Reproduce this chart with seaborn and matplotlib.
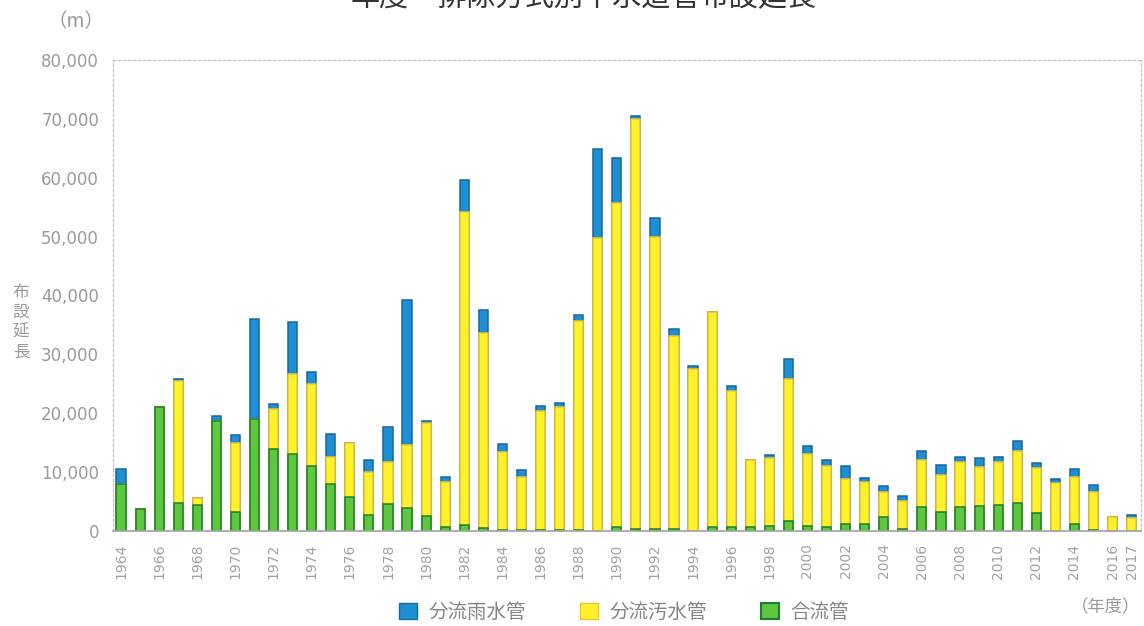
import matplotlib
matplotlib.use("Agg")
import matplotlib.pyplot as plt
import seaborn as sns
import pandas as pd
from matplotlib.patches import Patch

# Fiscal years
years = list(range(1964, 2018))

# Length laid per year (m), by drainage type
combined = [7900, 3700, 21000, 4800, 4400, 18700, 3200, 19000, 14000, 13100,
            11000, 7900, 5800, 2700, 4600, 3900, 2500, 600, 1000, 500,
            200, 100, 150, 150, 150, 0, 700, 400, 300, 400,
            0, 700, 700, 600, 850, 1700, 900, 600, 1200, 1200,
            2400, 400, 4100, 3200, 4000, 4300, 4400, 4800, 3000, 0,
            1200, 200, 0, 0]
sewage = [0, 0, 0, 20600, 1200, 0, 11800, 0, 6800, 13600,
          14000, 4600, 9200, 7300, 7100, 10700, 15800, 7800, 53200, 33100,
          13300, 9000, 20300, 20900, 35500, 49700, 55000, 69600, 49700, 32800,
          27450, 36500, 23000, 11500, 11600, 24100, 12200, 10500, 7600, 7200,
          4300, 4750, 7950, 6300, 7800, 6500, 7350, 8850, 7650, 8100,
          8000, 6500, 2300, 2150]
storm = [2700, 0, 0, 400, 0, 800, 1250, 17000, 700, 8800,
         2000, 4000, 0, 2100, 5900, 24700, 450, 800, 5500, 4000,
         1250, 1250, 800, 700, 1100, 15100, 7700, 450, 3100, 1100,
         550, 0, 850, 0, 400, 3400, 1400, 900, 2200, 600,
         950, 800, 1550, 1700, 850, 1550, 750, 1650, 850, 650,
         1250, 1100, 0, 550]

legend_labels = ["分流雨水管", "分流汚水管", "合流管"]
tick_years = [y for y in years if y % 2 == 0 or y == 2017]

df = pd.DataFrame({"year": [str(y) for y in years],
                   "combined": combined, "sewage": sewage, "storm": storm})
df["lvl_green"] = df["combined"]
df["lvl_yellow"] = df["combined"] + df["sewage"]
df["lvl_blue"] = df["lvl_yellow"] + df["storm"]

sns.set_theme(style="white")
cjk = ["Noto Sans CJK JP", "DejaVu Sans"]
plt.rcParams["font.family"] = cjk

BLUE, BLUE_E = "#1f8fd3", "#16679e"
YELLOW, YELLOW_E = "#fff22c", "#efc52a"
GREEN, GREEN_E = "#5ec63f", "#1c7f2c"
GREY = "#9a9a9a"

fig = plt.figure(figsize=(11.44, 6.26), dpi=100)
ax = fig.add_axes([113 / 1144, 1 - 531 / 626, (1141 - 113) / 1144, (531 - 60) / 626])

order = df["year"].tolist()
# stacked bars: draw cumulative levels from the top segment down
for col, fc, ec in [("lvl_blue", BLUE, BLUE_E),
                    ("lvl_yellow", YELLOW, YELLOW_E),
                    ("lvl_green", GREEN, GREEN_E)]:
    sns.barplot(data=df, x="year", y=col, order=order, color=fc,
                saturation=1, width=0.48, edgecolor=ec, linewidth=1.1,
                ax=ax, zorder=2)

ax.set_xlim(-0.42, len(years) - 1 + 0.49)
ax.set_ylim(0, 80000)
ax.set_yticks(range(0, 80001, 10000))
ax.set_yticklabels([f"{v:,}" for v in range(0, 80001, 10000)],
                   family="DejaVu Sans", fontsize=12, color=GREY)
ax.set_xticks(range(len(years)))
ax.set_xticklabels([str(y) if y in tick_years else "" for y in years],
                   rotation=90, family="DejaVu Sans", fontsize=10,
                   color="#a2a2a2", va="top")
ax.tick_params(axis="y", length=0, pad=10)
ax.tick_params(axis="x", length=0, pad=9)
ax.set_xlabel("")
ax.set_ylabel("")

for side in ["left", "top", "right"]:
    ax.spines[side].set_linestyle((0, (2, 2)))
    ax.spines[side].set_color("#c4c4c4")
    ax.spines[side].set_linewidth(0.9)
ax.spines["bottom"].set_color("#a8a8a8")
ax.spines["bottom"].set_linewidth(1.3)

# title (runs off the top edge of the page)
fig.text(0.51, 1 - 6.5 / 626, "年度・排除方式別下水道管布設延長",
         ha="center", va="baseline", fontsize=21, color="#333333", family=cjk)

# unit and vertical axis caption
fig.text(76 / 1144, 1 - 22 / 626, "（m）", ha="center", va="center",
         fontsize=14, color=GREY, family=cjk)
for i, ch in enumerate("布設延長"):
    fig.text(21 / 1144, 1 - (292 + 20 * i) / 626, ch, ha="center", va="center",
             fontsize=12, color=GREY, family=cjk)
fig.text(1140 / 1144, 1 - 606 / 626, "（年度）", ha="right", va="center",
         fontsize=12.5, color=GREY, family=cjk)

handles = [Patch(facecolor=BLUE, edgecolor=BLUE_E, linewidth=1),
           Patch(facecolor=YELLOW, edgecolor=YELLOW_E, linewidth=1),
           Patch(facecolor=GREEN, edgecolor=GREEN_E, linewidth=1.5)]
leg = fig.legend(handles, legend_labels, ncol=3, loc="center",
                 bbox_to_anchor=(624 / 1144, 1 - 612 / 626), frameon=False,
                 prop={"family": cjk, "size": 14}, handlelength=0.9,
                 handleheight=0.9, handletextpad=0.6, columnspacing=2.8)
for t in leg.get_texts():
    t.set_color("#858585")

fig.savefig("out.png", dpi=100, facecolor="white")
